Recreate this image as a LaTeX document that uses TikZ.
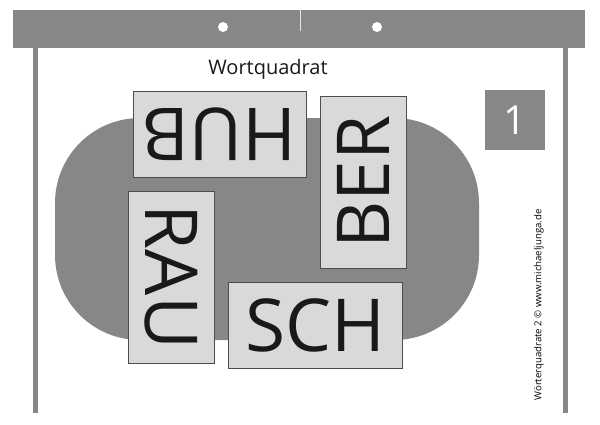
\documentclass[tikz,border=0pt]{standalone}
\usepackage{fontspec}
\setmainfont{Open Sans}
\usepackage{xcolor}

\definecolor{boardgray}{HTML}{878787}
\definecolor{cardgray}{HTML}{D9D9D9}
\definecolor{cardline}{HTML}{4D4D4D}

\begin{document}
\begin{tikzpicture}[x=1pt,y=-1pt,
    card/.style={draw=cardline,fill=cardgray,line width=1pt,inner sep=0pt,
      font=\fontsize{73}{73}\selectfont,text=black!90}]
            \useasboundingbox (0,0) rectangle (600,424);

            % Tafel
            \fill[boardgray] (13,10) rectangle (585,48);
            \draw[color=white!80!gray,line width=1pt] (300,10) -- (300,31);
            \fill[white] (223,27) circle (5);
            \fill[white] (377,27) circle (5);
            \draw[boardgray,line width=5pt] (35,48) -- (35,413);
            \draw[boardgray,line width=5pt] (565,48) -- (565,413);

            % Tisch
            \fill[boardgray,rounded corners=85pt] (55,118) rectangle (479,340);

            \node (titel) at (268,69) [font=\fontsize{20}{20}\selectfont,text=black!90] {Wortquadrat};
            \node (nr) at (515,120) [fill=boardgray,minimum size=60pt,inner sep=0pt,text=white,font=\fontsize{40}{40}\selectfont] {1};
            \node (quelle) at (539,305) [rotate=90,font=\fontsize{9.6}{10}\selectfont] {Wörterquadrate 2 © www.michaeljunga.de};

            % Karten
            \node (hub) at (219.5,134.5) [card,minimum width=173pt,minimum height=86pt,rotate=180] {HUB};
            \node (ber) at (363,182) [card,minimum width=172pt,minimum height=86pt,rotate=90] {BER};
            \node (rau) at (171,277) [card,minimum width=172pt,minimum height=86pt,rotate=-90] {RAU};
            \node (sch) at (315,325) [card,minimum width=174pt,minimum height=86pt] {SCH};

        \end{tikzpicture}
\end{document}
